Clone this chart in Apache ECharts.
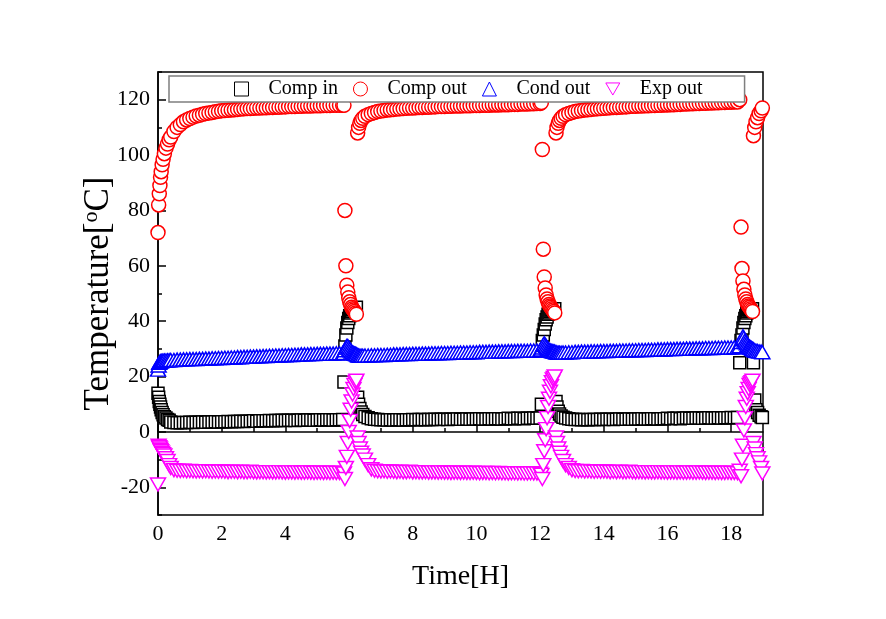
<!DOCTYPE html>
<html><head><meta charset="utf-8">
<script src="https://cdn.jsdelivr.net/npm/echarts@6/dist/echarts.min.js"></script>
<style>html,body{margin:0;padding:0;background:#fff}#c{width:886px;height:619px}</style>
</head><body><div id="c"></div>
<script>
// Time [H] (shared by all four series)
const timeH = [
  0, 0.02, 0.04, 0.06, 0.08, 0.1, 0.13, 0.16, 0.2, 0.25, 0.3, 0.35,
  0.4, 0.5, 0.6, 0.7, 0.8, 0.9, 1.0, 1.1, 1.2, 1.3,
  1.4, 1.5, 1.6, 1.7, 1.8, 1.9, 2.0, 2.1, 2.2, 2.3,
  2.4, 2.5, 2.6, 2.7, 2.8, 2.9, 3.0, 3.1, 3.2, 3.3,
  3.4, 3.5, 3.6, 3.7, 3.8, 3.9, 4.0, 4.1, 4.2, 4.3,
  4.4, 4.5, 4.6, 4.7, 4.8, 4.9, 5.0, 5.1, 5.2, 5.3,
  5.4, 5.5, 5.6, 5.7, 5.8,
  5.84, 5.87, 5.9, 5.93, 5.96, 5.99, 6.02, 6.05, 6.08, 6.11, 6.14, 6.17, 6.2, 6.23,
  6.27, 6.3, 6.34, 6.38, 6.43, 6.5,
  6.6, 6.7, 6.8, 6.9, 7.0, 7.1, 7.2, 7.3, 7.4, 7.5,
  7.6, 7.7, 7.8, 7.9, 8.0, 8.1, 8.2, 8.3, 8.4, 8.5,
  8.6, 8.7, 8.8, 8.9, 9.0, 9.1, 9.2, 9.3, 9.4, 9.5,
  9.6, 9.7, 9.8, 9.9, 10.0, 10.1, 10.2, 10.3, 10.4, 10.5,
  10.6, 10.7, 10.8, 10.9, 11.0, 11.1, 11.2, 11.3, 11.4, 11.5,
  11.6, 11.7, 11.8, 11.9, 12.0,
  12.04, 12.07, 12.1, 12.13, 12.16, 12.19, 12.22, 12.25, 12.28, 12.31, 12.34, 12.37, 12.4, 12.43, 12.46,
  12.5, 12.53, 12.57, 12.61, 12.66, 12.72,
  12.8, 12.9, 13.0, 13.1, 13.2, 13.3, 13.4, 13.5, 13.6, 13.7,
  13.8, 13.9, 14.0, 14.1, 14.2, 14.3, 14.4, 14.5, 14.6, 14.7,
  14.8, 14.9, 15.0, 15.1, 15.2, 15.3, 15.4, 15.5, 15.6, 15.7,
  15.8, 15.9, 16.0, 16.1, 16.2, 16.3, 16.4, 16.5, 16.6, 16.7,
  16.8, 16.9, 17.0, 17.1, 17.2, 17.3, 17.4, 17.5, 17.6, 17.7,
  17.8, 17.9, 18.0, 18.1, 18.2,
  18.27, 18.31, 18.34, 18.37, 18.4, 18.43, 18.46, 18.49, 18.52, 18.55, 18.58, 18.61, 18.64, 18.67,
  18.7, 18.74, 18.78, 18.83, 18.88, 18.94, 18.98
];

const compIn = [
  14, 12.5, 11, 10, 9, 8, 7, 6.2, 5.5, 5, 4.5, 4.2,
  3.6, 3.4, 3.3, 3.3, 3.4, 3.4, 3.5, 3.4, 3.5, 3.5,
  3.6, 3.5, 3.6, 3.6, 3.7, 3.6, 3.7, 3.7, 3.8, 3.7,
  3.8, 3.8, 3.9, 3.8, 3.9, 3.9, 4, 3.9, 4, 4,
  4, 4.1, 4, 4.1, 4.1, 4.2, 4.1, 4.2, 4.2, 4.1,
  4.2, 4.3, 4.2, 4.3, 4.3, 4.2, 4.3, 4.4, 4.3, 4.4,
  4.4, 4.3, 4.4, 4.4, 4.5,
  18, 31, 35, 37.5, 39.5, 41, 42, 43, 43.5, 44, 44.3, 44.5, 44.7, 45,
  12.5, 10, 8.5, 7.2, 6.3, 5.6,
  5.1, 4.8, 4.6, 4.5, 4.4, 4.4, 4.3, 4.4, 4.3, 4.4,
  4.4, 4.3, 4.4, 4.4, 4.5, 4.4, 4.5, 4.5, 4.4, 4.5,
  4.5, 4.6, 4.5, 4.6, 4.6, 4.5, 4.6, 4.6, 4.7, 4.6,
  4.6, 4.7, 4.6, 4.7, 4.7, 4.8, 4.7, 4.7, 4.8, 4.7,
  4.8, 4.8, 4.7, 4.8, 4.9, 4.8, 4.8, 4.9, 4.9, 4.8,
  4.9, 4.9, 5, 4.9, 5,
  10, 33, 35, 37, 39, 40.5, 41.5, 42.5, 43, 43.5, 44, 44, 44.2, 44.3, 44.5,
  11, 9, 7.5, 6.5, 5.8, 5.3,
  5, 4.8, 4.6, 4.5, 4.5, 4.4, 4.5, 4.4, 4.5, 4.5,
  4.5, 4.6, 4.5, 4.6, 4.6, 4.5, 4.6, 4.7, 4.6, 4.6,
  4.7, 4.6, 4.7, 4.7, 4.8, 4.7, 4.7, 4.8, 4.8, 4.7,
  4.8, 4.8, 4.9, 4.8, 4.9, 4.9, 4.8, 4.9, 5, 4.9,
  4.9, 5, 5, 4.9, 5, 5.1, 5, 5, 5.1, 5,
  5.1, 5.1, 5.2, 5.1, 5.2,
  25, 33, 35, 37.5, 39.5, 41, 42, 43, 43.5, 44, 44, 44.2, 44.3, 44.5,
  25, 11.5, 8, 7, 6, 5.5, 5.2
];

const compOut = [
  72, 82, 86, 89, 92, 94, 96.5, 98.5, 100.5, 102.5, 104, 105.5,
  106.5, 108.5, 110, 111, 112, 112.7, 113.2, 113.7, 114.1, 114.4,
  114.7, 115, 115.2, 115.4, 115.6, 115.8, 116, 116.1, 116.2, 116.3,
  116.4, 116.5, 116.6, 116.7, 116.8, 116.8, 116.9, 117, 117, 117.1,
  117.1, 117.2, 117.2, 117.3, 117.3, 117.4, 117.4, 117.5, 117.5, 117.5,
  117.6, 117.6, 117.7, 117.7, 117.7, 117.8, 117.8, 117.8, 117.9, 117.9,
  117.9, 118, 118, 118, 118,
  118, 80, 60, 53, 50.5, 48.5, 47, 46, 45, 44.5, 44, 43.5, 43, 42.5,
  108, 110, 111.5, 112.5, 113.3, 114,
  114.6, 115, 115.4, 115.7, 115.9, 116.1, 116.3, 116.4, 116.5, 116.6,
  116.7, 116.8, 116.9, 117, 117, 117.1, 117.2, 117.2, 117.3, 117.3,
  117.4, 117.4, 117.5, 117.5, 117.5, 117.6, 117.6, 117.7, 117.7, 117.7,
  117.8, 117.8, 117.8, 117.9, 117.9, 117.9, 118, 118, 118, 118.1,
  118.1, 118.1, 118.2, 118.2, 118.2, 118.3, 118.3, 118.3, 118.4, 118.4,
  118.4, 118.5, 118.5, 118.6, 118.6,
  119, 102, 66, 56, 52, 49.5, 48, 47, 46, 45.5, 45, 44.5, 44, 43.5, 43,
  108, 110, 111.5, 112.5, 113.3, 114,
  114.6, 115, 115.4, 115.7, 115.9, 116.1, 116.3, 116.4, 116.5, 116.6,
  116.7, 116.8, 116.9, 117, 117.1, 117.2, 117.2, 117.3, 117.4, 117.4,
  117.5, 117.6, 117.6, 117.7, 117.7, 117.8, 117.8, 117.9, 117.9, 118,
  118, 118.1, 118.1, 118.2, 118.2, 118.3, 118.3, 118.4, 118.4, 118.5,
  118.5, 118.6, 118.6, 118.7, 118.7, 118.8, 118.8, 118.9, 118.9, 119,
  119, 119.1, 119.1, 119.2, 119.2,
  120, 74, 59, 54.5, 51.5, 49.5, 48, 47, 46, 45.5, 45, 44.5, 44, 43.5,
  107, 110, 112, 113.5, 115, 116, 117
];

const condOut = [
  22.5, 24, 25, 25.3, 25.5, 25.6, 25.7, 25.7, 25.8, 25.8, 25.9, 25.9,
  26, 26, 26.1, 26.1, 26.2, 26.2, 26.3, 26.3, 26.3, 26.4,
  26.4, 26.5, 26.5, 26.6, 26.6, 26.7, 26.7, 26.8, 26.8, 26.9,
  26.9, 27, 27, 27.1, 27.1, 27.2, 27.2, 27.3, 27.3, 27.4,
  27.4, 27.5, 27.5, 27.6, 27.6, 27.7, 27.7, 27.8, 27.8, 27.9,
  27.9, 28, 28, 28, 28.1, 28.1, 28.2, 28.2, 28.2, 28.3,
  28.3, 28.3, 28.4, 28.4, 28.4,
  28.5, 29.5, 30.5, 31, 31, 30.5, 30, 29.5, 29, 28.7, 28.5, 28.3, 28.2, 28,
  27.8, 27.6, 27.5, 27.5, 27.5, 27.6,
  27.6, 27.7, 27.7, 27.8, 27.8, 27.8, 27.9, 27.9, 28, 28,
  28, 28.1, 28.1, 28.1, 28.2, 28.2, 28.2, 28.3, 28.3, 28.3,
  28.4, 28.4, 28.4, 28.5, 28.5, 28.5, 28.6, 28.6, 28.6, 28.7,
  28.7, 28.7, 28.8, 28.8, 28.8, 28.9, 28.9, 28.9, 29, 29,
  29, 29.1, 29.1, 29.1, 29.2, 29.2, 29.2, 29.3, 29.3, 29.3,
  29.3, 29.4, 29.4, 29.4, 29.5,
  29.8, 30.5, 31.5, 32, 31.5, 31, 30.5, 30, 29.7, 29.5, 29.3, 29.2, 29.1, 29, 29,
  28.8, 28.7, 28.6, 28.6, 28.6, 28.7,
  28.7, 28.8, 28.8, 28.9, 28.9, 29, 29, 29, 29.1, 29.1,
  29.1, 29.2, 29.2, 29.2, 29.3, 29.3, 29.3, 29.4, 29.4, 29.4,
  29.5, 29.5, 29.5, 29.6, 29.6, 29.6, 29.7, 29.7, 29.7, 29.8,
  29.8, 29.8, 29.9, 29.9, 29.9, 30, 30, 30, 30.1, 30.1,
  30.1, 30.2, 30.2, 30.2, 30.3, 30.3, 30.3, 30.4, 30.4, 30.4,
  30.5, 30.5, 30.5, 30.6, 30.6,
  31, 32.5, 33.5, 34.5, 34, 33, 32.5, 32, 31.5, 31, 30.8, 30.5, 30.3, 30,
  29.8, 29.5, 29.3, 29.2, 29, 29, 28.8
];

const expOut = [
  -19, -5, -5.5, -6, -6.5, -7, -7.5, -8, -8.5, -9.5, -10.5, -12,
  -13, -13.8, -14, -14.1, -14, -14.2, -14.1, -14.2, -14.3, -14.2,
  -14.3, -14.2, -14.3, -14.4, -14.3, -14.4, -14.3, -14.4, -14.5, -14.4,
  -14.4, -14.5, -14.4, -14.5, -14.5, -14.4, -14.5, -14.6, -14.5, -14.5,
  -14.6, -14.5, -14.6, -14.6, -14.5, -14.6, -14.7, -14.6, -14.6, -14.7,
  -14.6, -14.7, -14.7, -14.6, -14.7, -14.8, -14.7, -14.7, -14.8, -14.7,
  -14.8, -14.7, -14.8, -14.8, -14.9,
  -15, -17, -13, -9, -4, 0, 4, 8, 11, 13.5, 15.5, 17, 18, 18.5,
  -2, -4, -6, -7.5, -8.5, -10,
  -12, -13.5, -14, -14.2, -14.3, -14.2, -14.4, -14.3, -14.4, -14.5,
  -14.4, -14.5, -14.5, -14.4, -14.6, -14.5, -14.6, -14.6, -14.5, -14.7,
  -14.6, -14.6, -14.7, -14.6, -14.7, -14.7, -14.8, -14.7, -14.7, -14.8,
  -14.7, -14.8, -14.8, -14.7, -14.8, -14.9, -14.8, -14.8, -14.9, -14.8,
  -14.9, -14.8, -14.9, -14.9, -15, -14.9, -14.9, -15, -14.9, -15,
  -15, -14.9, -15, -15, -15.1,
  -15.5, -17, -12, -7, -3, 1, 5, 9, 12, 14.5, 16.5, 18, 19, 19.5, 20,
  -2, -4, -6, -7.5, -9, -10.5,
  -12, -13, -13.8, -14.1, -14.2, -14.1, -14.3, -14.2, -14.3, -14.4,
  -14.3, -14.4, -14.3, -14.4, -14.5, -14.4, -14.5, -14.4, -14.5, -14.5,
  -14.4, -14.5, -14.6, -14.5, -14.5, -14.6, -14.5, -14.6, -14.6, -14.5,
  -14.6, -14.6, -14.7, -14.6, -14.6, -14.7, -14.6, -14.7, -14.7, -14.6,
  -14.7, -14.7, -14.6, -14.7, -14.8, -14.7, -14.7, -14.8, -14.7, -14.8,
  -14.8, -14.7, -14.8, -14.8, -14.9,
  -14, -16, -10, -5, 0.5, 5, 9, 12, 14, 15.5, 17, 17.5, 18, 18.5,
  -4, -6, -8, -9.5, -11, -13, -15
];

const seriesNames = ['Comp in', 'Comp out', 'Cond out', 'Exp out'];
const xMajorTicks = [0, 2, 4, 6, 8, 10, 12, 14, 16, 18];
const xMinorTicks = [1, 3, 5, 7, 9, 11, 13, 15, 17];
const yMajorTicks = [-20, 0, 20, 40, 60, 80, 100, 120];
const yMinorTicks = [-30, -10, 10, 30, 50, 70, 90, 110, 130];

function pairs(vals) { return timeH.map((t, i) => [t, vals[i]]); }

const FONT = 'Liberation Serif';
const chart = echarts.init(document.getElementById('c'), null, { renderer: 'canvas' });

function mkSeries(name, vals, symbol, size, color) {
  return {
    name: name, type: 'scatter', data: pairs(vals),
    symbol: symbol, symbolSize: size,
    itemStyle: { color: '#ffffff', borderColor: color, borderWidth: 1.5, opacity: 1 },
    emphasis: { disabled: true },
    animation: false
  };
}

const majorAxisCommon = {
  axisLine: { show: true, lineStyle: { color: '#000', width: 1.5 } },
  splitLine: { show: false }
};

chart.setOption({
  backgroundColor: '#fff',
  animation: false,
  grid: { left: 158, right: 123, top: 72, bottom: 104, show: true, borderColor: '#000', borderWidth: 1.5, backgroundColor: 'transparent' },
  legend: {
    left: 169, top: 76, orient: 'horizontal',
    padding: [3, 42, 3, 65], itemWidth: 14, itemHeight: 14, itemGap: 15,
    borderColor: '#7f7f7f', borderWidth: 1.5, backgroundColor: '#fff',
    itemStyle: { borderWidth: 1 },
    textStyle: { fontFamily: FONT, fontSize: 20, color: '#000' },
    formatter: function (n) { return '   ' + n; },
    data: seriesNames
  },
  xAxis: [
    Object.assign({
      type: 'value', min: 0, max: 19, position: 'bottom',
      axisTick: { show: true, inside: true, length: 8, customValues: xMajorTicks, lineStyle: { color: '#000', width: 1.5 } },
      axisLabel: { customValues: xMajorTicks, fontFamily: FONT, fontSize: 22, color: '#000', margin: 8 },
      name: 'Time[H]', nameLocation: 'middle', nameGap: 48, nameMoveOverlap: false,
      nameTextStyle: { fontFamily: FONT, fontSize: 28, color: '#000' }
    }, majorAxisCommon),
    {
      type: 'value', min: 0, max: 19, position: 'bottom',
      axisLine: { show: false },
      axisTick: { show: true, inside: true, length: 4, customValues: xMinorTicks, lineStyle: { color: '#000', width: 1.5 } },
      axisLabel: { show: false }, splitLine: { show: false }
    }
  ],
  yAxis: [
    Object.assign({
      type: 'value', min: -30, max: 130, position: 'left',
      axisTick: { show: true, inside: true, length: 8, customValues: yMajorTicks, lineStyle: { color: '#000', width: 1.5 } },
      axisLabel: { customValues: yMajorTicks, fontFamily: FONT, fontSize: 22, color: '#000', margin: 8 },
      name: '{a|Temperature[}{sup|o}{a|C]}', nameLocation: 'middle', nameGap: 42, nameMoveOverlap: false,
      nameTextStyle: {
        fontFamily: FONT, fontSize: 35, color: '#000',
        rich: {
          a: { fontFamily: FONT, fontSize: 35, color: '#000', verticalAlign: 'bottom', lineHeight: 36 },
          sup: { fontFamily: FONT, fontSize: 22, color: '#000', verticalAlign: 'top', lineHeight: 36, padding: [0, 0, 12, 0] }
        }
      }
    }, majorAxisCommon),
    {
      type: 'value', min: -30, max: 130, position: 'left',
      axisLine: { show: false },
      axisTick: { show: true, inside: true, length: 4, customValues: yMinorTicks, lineStyle: { color: '#000', width: 1.5 } },
      axisLabel: { show: false }, splitLine: { show: false }
    }
  ],
  series: [
    mkSeries(seriesNames[0], compIn, 'rect', 12, '#000000'),
    mkSeries(seriesNames[1], compOut, 'circle', 14, '#ff0000'),
    mkSeries(seriesNames[2], condOut, 'triangle', [15, 13], '#0000ff'),
    mkSeries(seriesNames[3], expOut, 'path://M0,0L10,0L5,8.66Z', [15, 13], '#ff00ff')
  ]
});
</script>
</body></html>
